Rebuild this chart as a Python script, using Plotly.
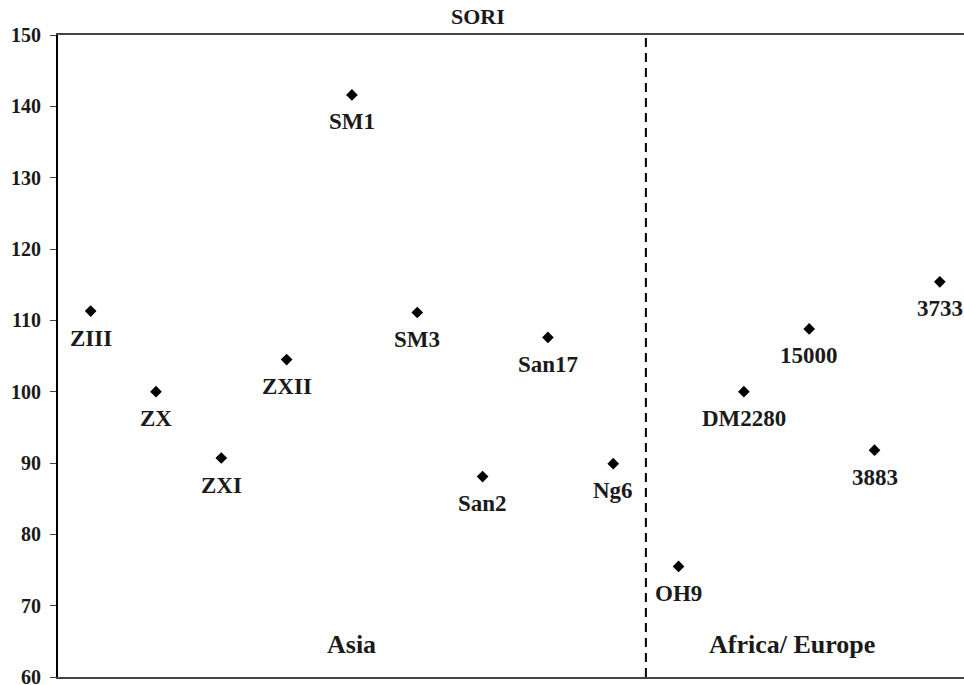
import plotly.graph_objects as go

# SORI values per strain
strains = ["ZIII", "ZX", "ZXI", "ZXII", "SM1", "SM3", "San2", "San17", "Ng6",
           "OH9", "DM2280", "15000", "3883", "3733"]
sori = [111.3, 100.0, 90.7, 104.5, 141.6, 111.1, 88.1, 107.6, 89.9,
        75.5, 100.0, 108.8, 91.8, 115.4]
positions = list(range(1, len(strains) + 1))

regions = ["Asia", "Africa/ Europe"]
region_x = [5.0, 11.74]
divider_x = 9.5

FONT = "Liberation Serif"
INK = "#1a1a1a"

fig = go.Figure()
fig.add_trace(go.Scatter(
    x=positions, y=sori, mode="markers",
    marker=dict(symbol="diamond", size=9, color="black"),
    hoverinfo="text", text=strains, showlegend=False,
))

# strain names under each marker
for xi, yi, name in zip(positions, sori, strains):
    fig.add_annotation(x=xi, y=yi, text=f"<b>{name}</b>", showarrow=False,
                       xanchor="center", yanchor="middle", yshift=-27,
                       font=dict(family=FONT, size=23, color=INK))

# region captions
for rx, label in zip(region_x, regions):
    fig.add_annotation(x=rx, y=64.6, text=f"<b>{label}</b>", showarrow=False,
                       xanchor="center", yanchor="middle",
                       font=dict(family=FONT, size=26, color=INK))

# title
fig.add_annotation(xref="paper", yref="paper", x=0.4636, y=1, yshift=19,
                   text="<b>SORI</b>", showarrow=False, xanchor="center", yanchor="middle",
                   font=dict(family=FONT, size=22, color=INK))

# dashed divider between regions
fig.add_shape(type="line", x0=divider_x, x1=divider_x, y0=60, y1=150,
              xref="x", yref="y",
              line=dict(color="black", width=2, dash="9px,6px"))

fig.update_layout(
    width=964, height=685,
    margin=dict(l=58, r=0, t=35, b=8, autoexpand=False),
    plot_bgcolor="white", paper_bgcolor="white",
    font=dict(family=FONT, color=INK),
)
fig.update_xaxes(range=[0.5, 14.37], showgrid=False, zeroline=False,
                 showticklabels=False, ticks="", showline=True,
                 linecolor="#444", linewidth=2, mirror=True, automargin=False)
fig.update_yaxes(range=[60, 150], dtick=10, showgrid=False, zeroline=False,
                 showline=True, linecolor="black", linewidth=2,
                 ticks="outside", ticklen=6, tickwidth=1, tickcolor="#444",
                 ticklabeloverflow="allow", ticklabelstandoff=5, automargin=False,
                 tickfont=dict(family=FONT, size=20, color=INK, weight="bold"))

fig.write_html("out.html")
